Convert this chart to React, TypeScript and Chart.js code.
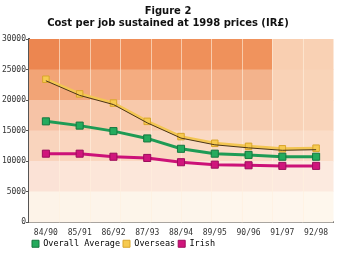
import { useEffect, useRef } from "react";
import { Chart, registerables } from "chart.js";

Chart.register(...registerables);

// Financial-year periods on the x axis
const periods = ["84/90", "85/91", "86/92", "87/93", "88/94", "89/95", "90/96", "91/97", "92/98"];

// Cost per job sustained (IR£, 1998 prices)
const overallAverage = [16500, 15800, 14900, 13700, 12000, 11200, 11000, 10700, 10700];
const overseas = [23400, 21000, 19500, 16500, 14000, 12900, 12400, 12000, 12100];
const irish = [11200, 11200, 10700, 10500, 9800, 9400, 9300, 9200, 9200];

// Value axis
const yMin = 0;
const yMax = 30000;
const yStep = 5000;

const titleLines = ["Figure 2", "Cost per job sustained at 1998 prices (IR£)"];

// Shaded backdrop: one row per 5000 band (top band first), ten columns across
const bandShades = [
  ["#ec8650", "#ed8a53", "#ee8c56", "#ef8e58", "#ef8f59", "#ef905a", "#ef915b", "#f0935d", "#f9cfb1", "#f9d1b4"],
  ["#f2a476", "#f3a87b", "#f3aa7e", "#f4ac80", "#f4ad82", "#f4ae84", "#f4b087", "#f3b38c", "#f9d2b6", "#f9d4b8"],
  ["#f6c3a6", "#f7c6a8", "#f8c8aa", "#f8c9ab", "#f8caad", "#f8cbae", "#f8ccb0", "#f8ceb2", "#f9d2b7", "#f9d4ba"],
  ["#f9d4bd", "#fad6bf", "#fad7c0", "#fad8c1", "#fad8c2", "#fad9c3", "#fadac4", "#fadbc5", "#fadcc7", "#fbddc8"],
  ["#fbe2d6", "#fce5d8", "#fce6d9", "#fce7da", "#fce7db", "#fce8dc", "#fce8dc", "#fce9dd", "#fce9de", "#fceadf"],
  ["#fdf3e8", "#fdf4e9", "#fdf4ea", "#fdf5ea", "#fdf5eb", "#fdf5eb", "#fef6ec", "#fef6ec", "#fef6ed", "#fef7ed"],
];

const backdrop = {
  id: "backdrop",
  beforeDatasetsDraw(chart: any) {
    const { ctx, chartArea, scales } = chart;
    const y = scales.y;
    const cols = bandShades[0].length;
    const colW = (chartArea.right - chartArea.left) / cols;
    ctx.save();
    bandShades.forEach((row, r) => {
      const top = y.getPixelForValue(yMax - r * yStep);
      const bottom = y.getPixelForValue(yMax - (r + 1) * yStep);
      row.forEach((shade, c) => {
        ctx.fillStyle = shade;
        ctx.fillRect(chartArea.left + c * colW, top, colW + 0.5, bottom - top + 0.5);
      });
    });
    ctx.strokeStyle = "rgba(255, 240, 222, 0.6)";
    ctx.lineWidth = 1;
    for (let c = 1; c < cols; c++) {
      const x = Math.round(chartArea.left + c * colW) + 0.5;
      ctx.beginPath();
      ctx.moveTo(x, chartArea.top);
      ctx.lineTo(x, chartArea.bottom);
      ctx.stroke();
    }
    ctx.restore();
  },
};

// The dark Overseas trace sits along the lower edge of the yellow band
const TRACE_INDEX = 3;
const traceShift = {
  id: "traceShift",
  beforeDatasetDraw(chart: any, args: any) {
    if (args.index === TRACE_INDEX) {
      chart.ctx.save();
      chart.ctx.translate(0, 1.5);
    }
  },
  afterDatasetDraw(chart: any, args: any) {
    if (args.index === TRACE_INDEX) chart.ctx.restore();
  },
};

const monoFont = "'DejaVu Sans Mono', monospace";

export default function App() {
  const canvasRef = useRef<HTMLCanvasElement>(null);

  useEffect(() => {
    document.body.style.margin = "0";
    const canvas = canvasRef.current;
    if (!canvas) return;

    const chart = new Chart(canvas, {
      type: "line",
      data: {
        labels: periods,
        datasets: [
          {
            label: "Overall Average",
            data: overallAverage,
            borderColor: "#1e9b55",
            backgroundColor: "#22a85c",
            borderWidth: 3,
            pointStyle: "rect",
            pointRadius: 5,
            pointBackgroundColor: "#24ab5d",
            pointBorderColor: "#15773f",
            pointBorderWidth: 1,
          },
          {
            label: "Overseas",
            data: overseas,
            borderColor: "#f3c653",
            backgroundColor: "#f5c84e",
            borderWidth: 3,
            pointStyle: "rect",
            pointRadius: 4.6,
            pointBackgroundColor: "#f6ca50",
            pointBorderColor: "#d9a52c",
            pointBorderWidth: 1,
          },
          {
            label: "Irish",
            data: irish,
            borderColor: "#cc1278",
            backgroundColor: "#d0157c",
            borderWidth: 3,
            pointStyle: "rect",
            pointRadius: 5,
            pointBackgroundColor: "#d0157c",
            pointBorderColor: "#9c0d5c",
            pointBorderWidth: 1,
          },
          {
            // thin dark trace running along the Overseas series
            label: "",
            data: overseas,
            borderColor: "#4a3418",
            borderWidth: 1,
            pointRadius: 0,
            order: -1,
          },
        ],
      },
      options: {
        responsive: false,
        animation: false,
        events: [],
        layout: { padding: { top: 5, right: 3, left: 0, bottom: -4 } },
        plugins: {
          title: {
            display: true,
            text: titleLines,
            color: "#111111",
            font: { family: "'DejaVu Sans', sans-serif", size: 10, weight: "bold", lineHeight: 1.25 },
            padding: { top: 0, bottom: 9 },
          },
          legend: {
            position: "bottom",
            align: "start",
            fullSize: false,
            labels: {
              boxWidth: 7,
              boxHeight: 7,
              padding: 3,
              color: "#333333",
              font: { family: monoFont, size: 8.5 },
              generateLabels: (c: any) =>
                c.data.datasets
                  .map((ds: any, i: number) => ({
                    text: ds.label,
                    fillStyle: ds.pointBackgroundColor,
                    strokeStyle: ds.pointBorderColor,
                    lineWidth: 1,
                    datasetIndex: i,
                    hidden: false,
                  }))
                  .filter((item: any) => item.text !== ""),
            },
          },
          tooltip: { enabled: false },
        },
        scales: {
          x: {
            offset: true,
            grid: {
              offset: true,
              drawOnChartArea: false,
              drawTicks: true,
              tickLength: -4,
              lineWidth: 1,
              color: (ctx: any) =>
                ctx.index === 0 || ctx.index >= periods.length ? "rgba(0,0,0,0)" : "#555555",
            },
            border: { display: true, color: "#555555", width: 2 },
            ticks: {
              color: "#333333",
              font: { family: monoFont, size: 8 },
              padding: 10,
              maxRotation: 0,
              autoSkip: false,
            },
            afterFit: (scale: any) => {
              scale.height = 14.5;
            },
          },
          y: {
            min: yMin,
            max: yMax,
            grid: {
              drawOnChartArea: false,
              drawTicks: true,
              tickLength: 3,
              color: "#555555",
            },
            border: { display: true, color: "#555555", width: 2 },
            ticks: {
              stepSize: yStep,
              color: "#333333",
              font: { family: monoFont, size: 8 },
              padding: 0,
              callback: (value: any) => String(value),
            },
            afterFit: (scale: any) => {
              scale.width = 29;
            },
          },
        },
      },
      plugins: [backdrop, traceShift],
    });

    return () => chart.destroy();
  }, []);

  return (
    <div style={{ width: 339, height: 254 }}>
      <canvas ref={canvasRef} width={339} height={254} style={{ display: "block" }} />
    </div>
  );
}
